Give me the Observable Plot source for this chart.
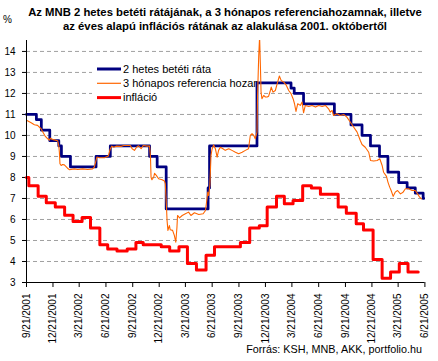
<!DOCTYPE html>
<html><head><meta charset="utf-8">
<script src="https://cdn.jsdelivr.net/npm/d3@7"></script>
<script src="https://cdn.jsdelivr.net/npm/@observablehq/plot@0.6"></script>
<style>
body{margin:0;background:#fff;font-family:"Liberation Sans",Arial,sans-serif;color:#000;}
#wrap{position:relative;width:438px;height:361px;overflow:hidden;background:#fff;}
#title{position:absolute;left:0;top:4.7px;width:450px;text-align:center;font-weight:bold;font-size:11.3px;line-height:14.7px;}
#pct{position:absolute;left:3px;top:13.5px;font-size:10px;line-height:12px;}
#chart{position:absolute;left:0;top:36px;}
#src{position:absolute;right:16px;top:342.8px;font-size:10.8px;line-height:13px;white-space:nowrap;}
</style></head>
<body>
<div id="wrap">
  <div id="title">Az MNB 2 hetes betéti rátájának, a 3 hónapos referenciahozamnak, illetve<br>az éves alapú inflációs rátának az alakulása 2001. októbertől</div>
  <div id="pct">%</div>
  <div id="chart"></div>
  <div id="src">Forrás: KSH, MNB, AKK, portfolio.hu</div>
</div>
<script>
// ---- DATA ----
const seriesNames = ["2 hetes betéti ráta", "3 hónapos referencia hozam", "infláció"];

const xTickDates = ["2001-09-21","2001-12-21","2002-03-21","2002-06-21","2002-09-21","2002-12-21","2003-03-21","2003-06-21","2003-09-21","2003-12-21","2004-03-21","2004-06-21","2004-09-21","2004-12-21","2005-03-21","2005-06-21"];
const xTickLabels = ["9/21/2001","12/21/2001","3/21/2002","6/21/2002","9/21/2002","12/21/2002","3/21/2003","6/21/2003","9/21/2003","12/21/2003","3/21/2004","6/21/2004","9/21/2004","12/21/2004","3/21/2005","6/21/2005"];
const yTicks = [3,4,5,6,7,8,9,10,11,12,13,14];
const yMax = 14.52;

// 2 hetes betéti ráta (step changes)
const blueDates = ["2001-09-21","2001-10-25","2001-11-11","2001-12-10","2002-01-10","2002-01-19","2002-02-19","2002-05-18","2002-07-06","2002-11-18","2002-12-14","2003-01-14","2003-06-07","2003-06-12","2003-11-22","2004-03-18","2004-03-29","2004-04-30","2004-08-14","2004-10-10","2004-11-17","2004-12-16","2005-01-16","2005-02-14","2005-03-23","2005-04-21","2005-05-19","2005-06-15","2005-06-17"];
const blueValues = [11.0,10.75,10.25,9.75,9.5,9.0,8.5,9.0,9.5,9.0,8.5,6.5,7.5,9.5,12.5,12.25,12.0,11.5,11.0,10.5,10.0,9.5,9.0,8.25,7.75,7.5,7.25,7.0,7.0];

// 3 hónapos referencia hozam
const orangeDates = ["2001-09-21","2001-10-07","2001-10-18","2001-10-29","2001-11-10","2001-11-16","2001-11-24","2001-12-03","2001-12-09","2001-12-12","2001-12-22","2002-01-06","2002-01-10","2002-01-12","2002-01-14","2002-01-18","2002-01-23","2002-01-29","2002-02-04","2002-02-09","2002-02-15","2002-03-04","2002-03-16","2002-04-02","2002-04-19","2002-05-06","2002-05-12","2002-05-18","2002-05-21","2002-05-29","2002-06-16","2002-06-29","2002-07-06","2002-07-11","2002-07-18","2002-07-26","2002-08-12","2002-08-21","2002-09-13","2002-09-19","2002-09-27","2002-10-04","2002-10-11","2002-10-20","2002-10-27","2002-11-09","2002-11-18","2002-11-21","2002-11-23","2002-11-26","2002-12-02","2002-12-05","2002-12-11","2002-12-19","2002-12-31","2003-01-08","2003-01-11","2003-01-15","2003-01-17","2003-01-20","2003-01-25","2003-01-28","2003-02-05","2003-02-11","2003-02-16","2003-02-20","2003-02-22","2003-03-01","2003-03-10","2003-03-21","2003-04-01","2003-04-09","2003-04-21","2003-05-06","2003-05-21","2003-05-29","2003-06-01","2003-06-06","2003-06-09","2003-06-13","2003-06-17","2003-06-21","2003-06-26","2003-07-02","2003-07-08","2003-07-13","2003-07-19","2003-07-28","2003-08-05","2003-08-17","2003-08-28","2003-09-09","2003-09-20","2003-10-02","2003-10-13","2003-10-24","2003-10-30","2003-11-05","2003-11-11","2003-11-16","2003-11-22","2003-11-24","2003-11-28","2003-12-01","2003-12-04","2003-12-06","2003-12-09","2003-12-15","2003-12-21","2003-12-27","2004-01-01","2004-01-07","2004-01-10","2004-01-16","2004-01-24","2004-02-01","2004-02-07","2004-02-13","2004-02-22","2004-03-02","2004-03-10","2004-03-18","2004-03-25","2004-03-30","2004-04-04","2004-04-10","2004-04-19","2004-04-25","2004-04-30","2004-05-06","2004-05-18","2004-05-29","2004-06-10","2004-06-21","2004-07-03","2004-07-14","2004-07-25","2004-07-31","2004-08-06","2004-08-11","2004-08-23","2004-09-03","2004-09-15","2004-09-26","2004-10-08","2004-10-19","2004-10-31","2004-11-11","2004-11-17","2004-11-28","2004-12-10","2004-12-16","2004-12-27","2005-01-08","2005-01-17","2005-01-25","2005-01-30","2005-02-09","2005-02-14","2005-02-20","2005-02-25","2005-03-04","2005-03-11","2005-03-19","2005-03-29","2005-04-07","2005-04-15","2005-04-26","2005-05-08","2005-05-19","2005-05-27","2005-06-03","2005-06-09"];
const orangeValues = [10.72,10.6,10.51,10.48,10.32,10.16,9.97,9.84,9.78,9.87,9.8,9.75,9.5,9.2,8.65,8.57,8.62,8.6,8.52,8.44,8.37,8.41,8.38,8.41,8.38,8.41,8.49,8.81,8.97,8.94,8.94,9.02,9.37,9.49,9.44,9.49,9.48,9.52,9.52,9.37,9.29,9.44,9.51,9.37,9.52,9.49,9.49,8.97,8.01,7.89,8.01,8.2,8.1,7.94,7.89,7.83,7.7,6.59,5.95,5.48,5.71,5.51,5.48,5.24,4.92,5.63,6.19,6.08,6.19,6.27,6.35,6.19,6.32,6.24,6.27,6.43,6.75,7.3,7.14,7.62,9.05,9.37,9.55,9.37,8.97,9.29,9.44,9.37,9.29,9.37,9.29,9.2,9.13,9.2,9.29,9.37,10.0,10.08,10.0,9.84,10.16,11.9,13.81,14.7,13.18,12.06,11.75,11.9,11.83,11.83,11.87,12.14,12.3,12.06,12.14,12.54,12.83,12.62,12.54,12.38,12.14,11.99,11.75,11.51,11.14,11.51,11.43,11.59,11.08,11.43,11.38,11.43,11.35,11.43,11.38,11.43,11.27,11.11,11.19,10.95,11.03,10.95,11.0,10.87,10.63,10.4,10.16,9.76,9.57,9.44,9.2,8.81,8.78,8.81,8.89,8.57,8.25,8.05,7.78,7.54,7.38,7.1,7.3,7.38,7.22,7.3,7.46,7.46,7.38,7.38,7.22,7.06,6.98];

// infláció (monthly steps)
const redDates = ["2001-09-21","2001-09-29","2001-10-31","2001-11-28","2001-12-29","2002-01-30","2002-02-28","2002-03-31","2002-04-29","2002-05-31","2002-06-27","2002-07-29","2002-09-02","2002-10-02","2002-10-27","2002-12-28","2003-01-26","2003-02-27","2003-03-28","2003-04-28","2003-05-31","2003-06-29","2003-09-26","2003-10-28","2003-11-30","2003-12-27","2004-01-28","2004-02-24","2004-03-25","2004-04-27","2004-05-27","2004-06-27","2004-08-27","2004-09-24","2004-10-28","2004-11-22","2004-12-25","2005-01-25","2005-02-23","2005-03-25","2005-04-24","2005-05-29"];
const redValues = [8.0,7.6,7.1,6.8,6.6,6.2,5.9,6.1,5.6,4.8,4.6,4.5,4.6,4.9,4.8,4.7,4.5,4.7,3.9,3.6,4.3,4.7,4.9,5.6,5.7,6.6,7.1,6.75,6.9,7.6,7.5,7.2,6.6,6.3,5.8,5.5,4.1,3.2,3.5,3.9,3.5,3.5];

const colors = ["#000080", "#FF6600", "#FF0000"];
const widths = [2.75, 1.1, 3];

// ---- BUILD ----
const parse = d3.utcParse("%Y-%m-%d");
const toRows = (ds, vs) => ds.map((d, i) => ({date: parse(d), value: vs[i]}));
const blue = toRows(blueDates, blueValues);
const orange = toRows(orangeDates, orangeValues);
const red = toRows(redDates, redValues);
const xTicks = xTickDates.map(parse);
const labelMap = new Map(xTicks.map((d, i) => [+d, xTickLabels[i]]));
const gridValues = yTicks.slice(1);

const chart = Plot.plot({
  width: 438,
  height: 325,
  marginLeft: 26,
  marginRight: 13.6,
  marginTop: 4,
  marginBottom: 79,
  style: {fontFamily: '"Liberation Sans", Arial, sans-serif', fontSize: "10px", background: "white", color: "black", overflow: "visible"},
  x: {type: "utc", domain: [xTicks[0], xTicks[xTicks.length - 1]], ticks: xTicks, tickFormat: d => labelMap.get(+d), tickRotate: -90, tickSize: 5, tickPadding: 6, label: null},
  y: {domain: [yTicks[0], yMax], ticks: yTicks, tickSize: 4, tickPadding: 7, label: null},
  marks: [
    Plot.ruleY(gridValues, {stroke: "#a0a0a0", strokeDasharray: "4,3"}),
    Plot.line(blue, {x: "date", y: "value", curve: "step-after", stroke: colors[0], strokeWidth: widths[0]}),
    Plot.line(orange, {x: "date", y: "value", stroke: colors[1], strokeWidth: widths[1], clip: true}),
    Plot.line(red, {x: "date", y: "value", curve: "step-after", stroke: colors[2], strokeWidth: widths[2]}),
    Plot.ruleX([xTicks[0]], {stroke: "black"}),
    Plot.ruleY([yTicks[0]], {stroke: "black"})
  ]
});
document.getElementById("chart").appendChild(chart);

// Legend (drawn inside the plot, above the grid, beneath the lines)
const lg = d3.create("svg:g")
  .attr("font-family", '"Liberation Sans", Arial, sans-serif')
  .attr("font-size", 11)
  .attr("text-anchor", "start");
const clipId = "legclip";
lg.append("clipPath").attr("id", clipId).append("rect").attr("x", 92).attr("y", 20).attr("width", 166).attr("height", 52);
lg.append("rect").attr("x", 92).attr("y", 20).attr("width", 168).attr("height", 52).attr("fill", "white");
seriesNames.forEach((name, i) => {
  const y = 33 + i * 14.3;
  lg.append("line").attr("x1", 97).attr("x2", 121).attr("y1", y).attr("y2", y)
    .attr("stroke", colors[i]).attr("stroke-width", widths[i] < 2 ? 1.2 : 3);
  lg.append("text").attr("x", 123).attr("y", y).attr("dy", "0.35em").attr("fill", "black")
    .attr("text-anchor", "start")
    .attr("clip-path", `url(#${clipId})`).text(name);
});
const gridG = chart.querySelector('g[aria-label="rule"]');
if (gridG) gridG.after(lg.node()); else chart.appendChild(lg.node());
</script>
</body></html>
